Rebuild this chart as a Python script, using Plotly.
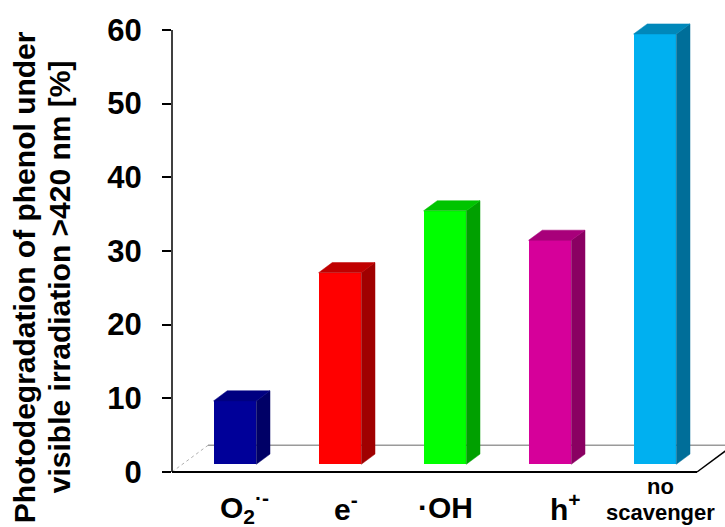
import plotly.graph_objects as go

# Scavenger experiment: phenol photodegradation (%) under visible light > 420 nm
labels = ["O<sub>2</sub><sup>·-</sup>", "e<sup>-</sup>", "·OH", "h<sup>+</sup>", "no scavenger"]
values = [8.6, 26.0, 34.4, 30.4, 58.4]
y_ticks = [0, 10, 20, 30, 40, 50, 60]

# face colours: front, top, side
front_colors = ["#000099", "#FF0000", "#00FF00", "#D6009A", "#00B0F0"]
top_colors = ["#000080", "#C00000", "#00C400", "#A8007A", "#0088BA"]
side_colors = ["#000066", "#A00000", "#00A000", "#8A0062", "#006E99"]

# oblique projection of the floor depth (category units, value units)
DX = 0.343
DY = 3.62
Z_FRONT = 0.29   # depth of the bar front faces
Z_BACK = 0.67    # depth of the bar back faces
BAR_W = 0.407

n = len(values)
xs = list(range(n))
base = Z_FRONT * DY
ddx = (Z_BACK - Z_FRONT) * DX
ddy = (Z_BACK - Z_FRONT) * DY

floor_l = -Z_FRONT * DX - 0.5
floor_r = (n - 1) - Z_FRONT * DX + 0.5

fig = go.Figure()

# front faces
fig.add_trace(go.Bar(
    x=xs, y=values, base=[base] * n, width=BAR_W,
    marker=dict(color=front_colors, line=dict(width=0)),
    showlegend=False, hoverinfo="skip",
))

# side and top faces of each column
for i, v in enumerate(values):
    xl = i - BAR_W / 2
    xr = i + BAR_W / 2
    top = base + v
    fig.add_trace(go.Scatter(
        x=[xr, xr + ddx, xr + ddx, xr, xr],
        y=[base, base + ddy, top + ddy, top, base],
        fill="toself", mode="lines", fillcolor=side_colors[i],
        line=dict(width=0.5, color=side_colors[i]),
        showlegend=False, hoverinfo="skip",
    ))
    fig.add_trace(go.Scatter(
        x=[xl, xr, xr + ddx, xl + ddx, xl],
        y=[top, top, top + ddy, top + ddy, top],
        fill="toself", mode="lines", fillcolor=top_colors[i],
        line=dict(width=0.5, color=top_colors[i]),
        showlegend=False, hoverinfo="skip",
    ))

# floor outline
shapes = [
    dict(type="line", xref="x", yref="y", x0=floor_l + DX, y0=DY, x1=floor_r + DX, y1=DY,
         line=dict(color="#9a9a9a", width=1.5), layer="below"),
    dict(type="line", xref="x", yref="y", x0=floor_l, y0=0, x1=floor_l + DX, y1=DY,
         line=dict(color="#b0b0b0", width=1, dash="dot"), layer="below"),
    dict(type="line", xref="x", yref="y", x0=floor_l, y0=0, x1=floor_r, y1=0,
         line=dict(color="black", width=2)),
    dict(type="line", xref="x", yref="y", x0=floor_r, y0=0, x1=floor_r + DX, y1=DY,
         line=dict(color="black", width=1.5)),
    # value axis line
    dict(type="line", xref="paper", yref="y", x0=0, y0=y_ticks[0], x1=0, y1=y_ticks[-1],
         line=dict(color="black", width=1.5)),
]

font_family = "Liberation Sans, Arial, sans-serif"

annotations = []
label_shift = [10, 6, 1, 16, 6]
for i, lab in enumerate(labels):
    if lab == "no scavenger":
        annotations.append(dict(x=i, y=-0.0085, xref="x", yref="paper", text="no",
                                showarrow=False, xshift=label_shift[i], yanchor="middle",
                                font=dict(family=font_family, size=22, color="black", weight="bold")))
        annotations.append(dict(x=i, y=-0.0636, xref="x", yref="paper", text="scavenger",
                                showarrow=False, xshift=label_shift[i], yanchor="middle",
                                font=dict(family=font_family, size=22, color="black", weight="bold")))
    else:
        annotations.append(dict(x=i, y=-0.053, xref="x", yref="paper", text=lab,
                                showarrow=False, xshift=label_shift[i], yanchor="middle",
                                font=dict(family=font_family, size=30, color="black", weight="bold")))

# two-line value axis title
annotations.append(dict(x=-0.2676, y=0.434, xref="paper", yref="paper",
                        text="Photodegradation of phenol under", textangle=-90,
                        showarrow=False, xanchor="center", yanchor="middle",
                        font=dict(family=font_family, size=30, color="black", weight="bold")))
annotations.append(dict(x=-0.2043, y=0.434, xref="paper", yref="paper",
                        text="visible irradiation >420 nm [%]", textangle=-90,
                        showarrow=False, xanchor="center", yanchor="middle",
                        font=dict(family=font_family, size=30, color="black", weight="bold")))

fig.update_layout(
    width=725, height=527, autosize=False,
    margin=dict(l=172, r=0, t=10, b=45),
    paper_bgcolor="white", plot_bgcolor="white",
    shapes=shapes, annotations=annotations,
    xaxis=dict(range=[floor_l, floor_l + 553 / 105], showgrid=False, zeroline=False,
               showline=False, showticklabels=False, ticks=""),
    yaxis=dict(range=[-1.36, 62.71], showgrid=False, zeroline=False, showline=False,
               tickmode="array", tickvals=y_ticks, ticks="outside", ticklen=9,
               tickwidth=1.5, tickcolor="black", ticklabelstandoff=14,
               tickfont=dict(family=font_family, size=31, color="black", weight="bold")),
    bargap=0,
)

fig.write_html("out.html", config={"displayModeBar": False})
